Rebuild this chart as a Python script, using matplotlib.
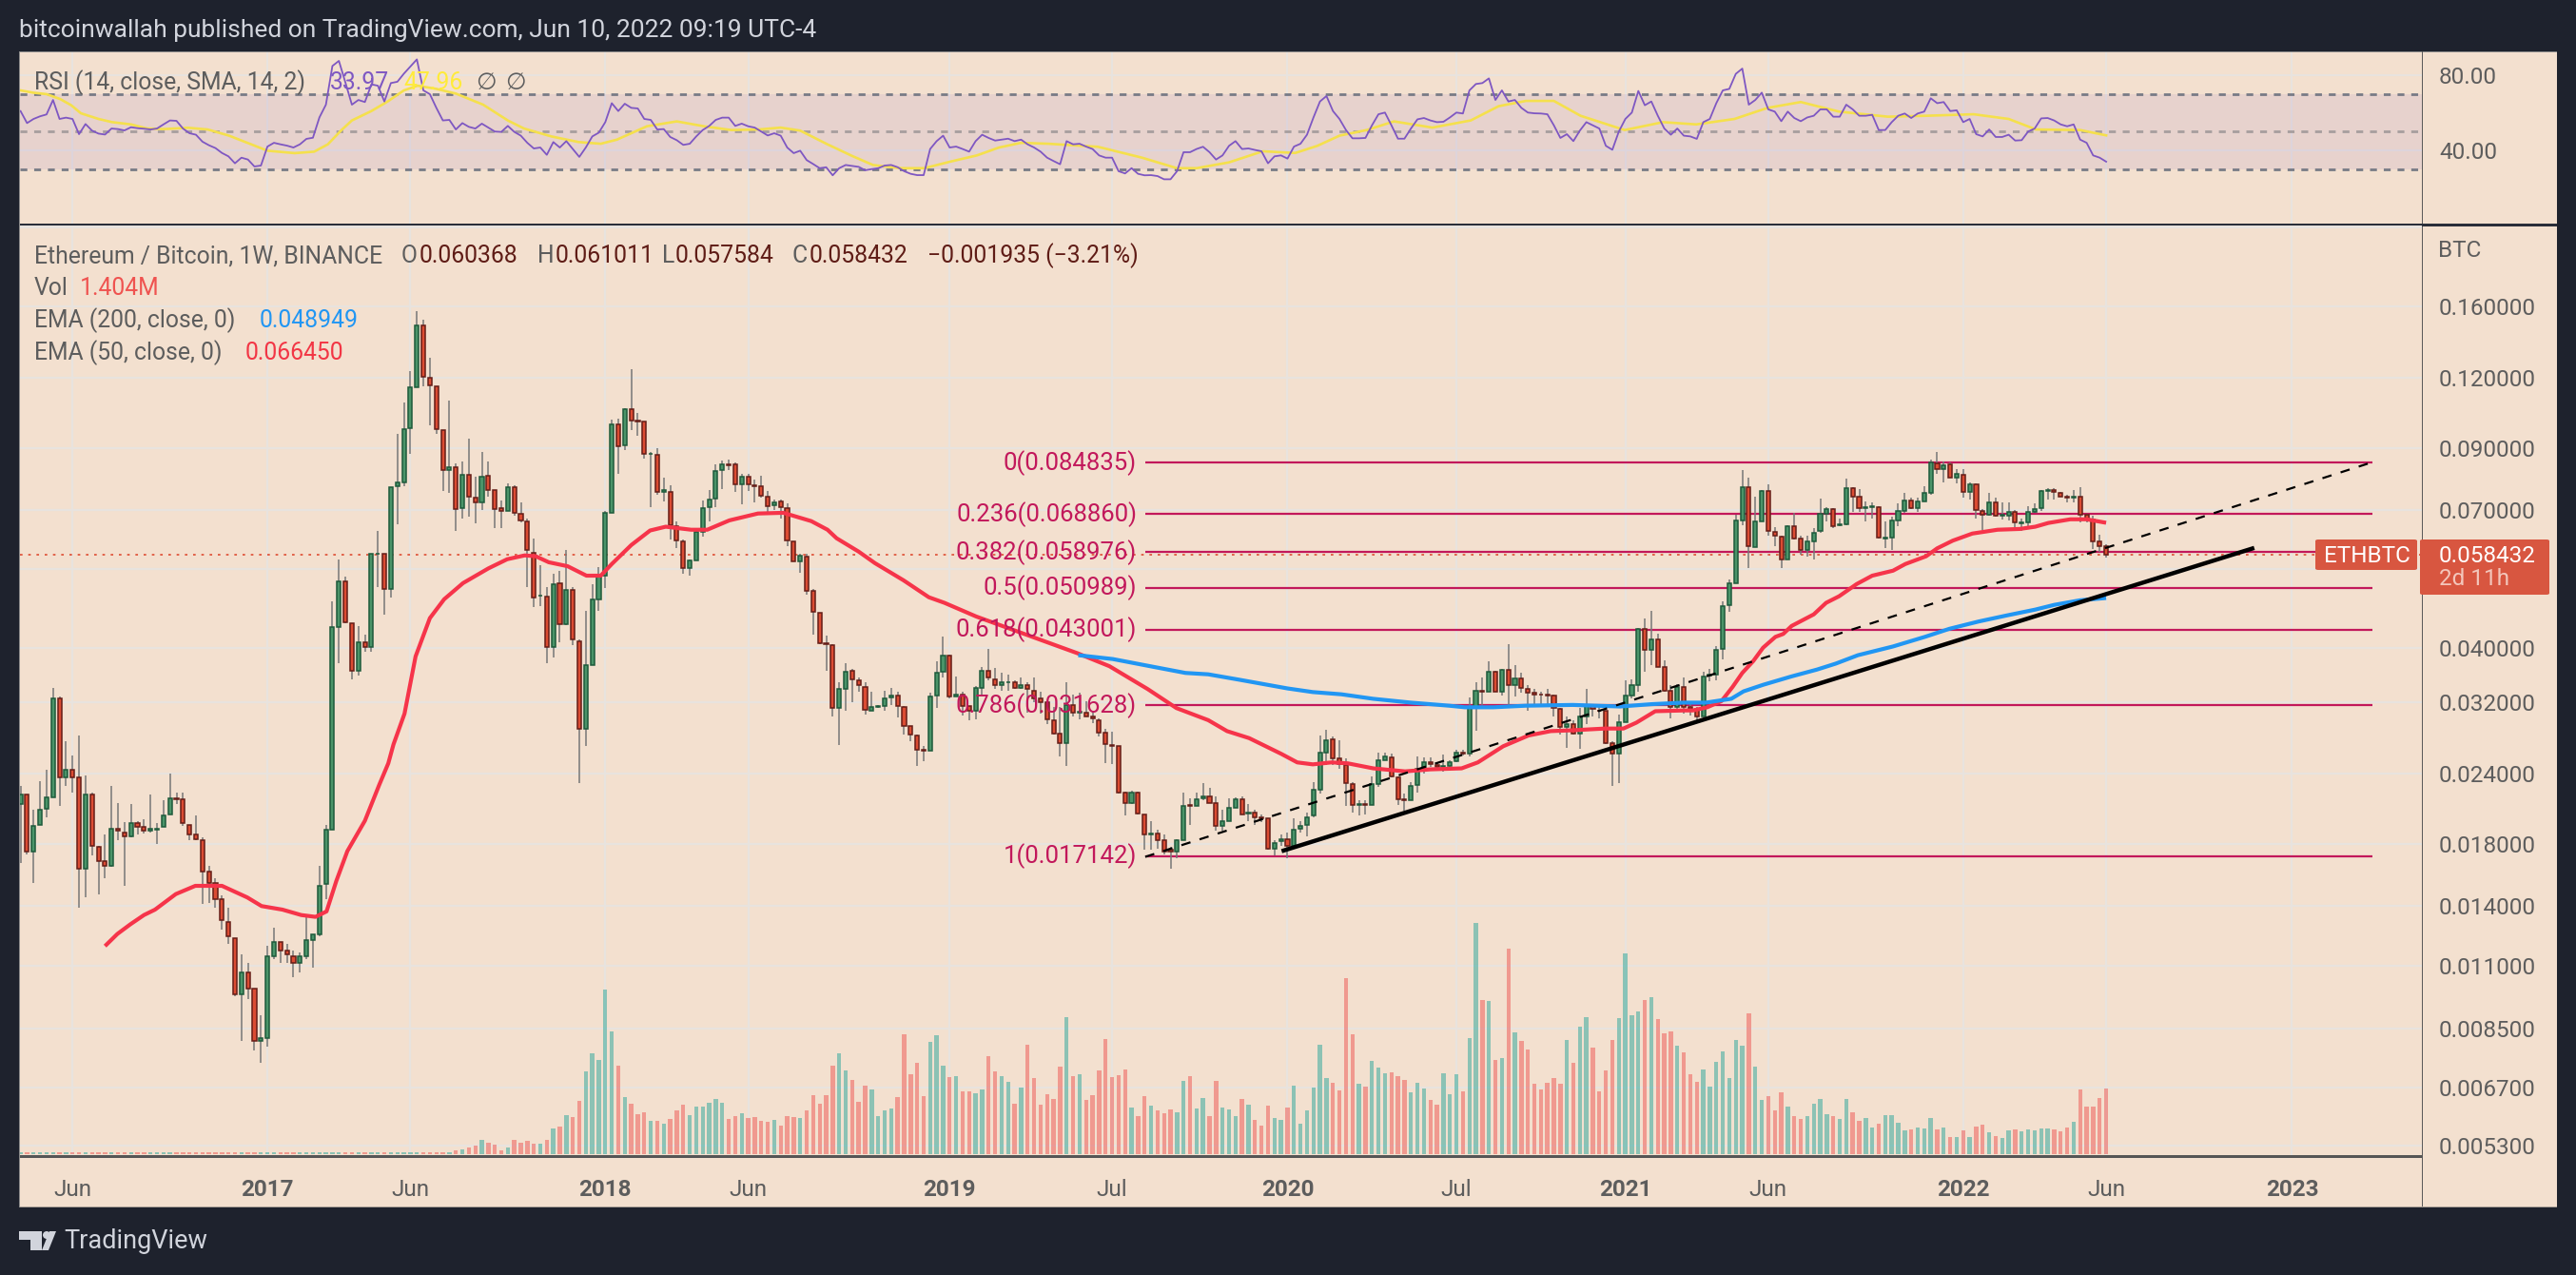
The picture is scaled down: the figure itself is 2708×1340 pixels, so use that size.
import matplotlib
matplotlib.use("Agg")
import matplotlib.pyplot as plt
import numpy as np
from matplotlib.patches import Circle, FancyBboxPatch, Polygon, Rectangle
from matplotlib.transforms import IdentityTransform

W, H = 2708, 1340

# weekly candles
open_p = [
    .0212, .0220, .0175, .0195, .0208, .0218, .0326, .0236, .0244, .0236,
    .0163, .0220, .0178, .0168, .0165, .0192, .0189, .0186, .0196, .0193,
    .0190, .0191, .0193, .0203, .0217, .0216, .0195, .0187, .0183, .0161,
    .0154, .0144, .0131, .0123, .0098, .0107, .0100, .0081, .0082, .0114,
    .0121, .0117, .0114, .0111, .0114, .0122, .0125, .0153, .0191, .0435,
    .0524, .0442, .0364, .0409, .0401, .0585, .0587, .0508, .0771, .0783,
    .0976, .1153, .1480, .1197, .1157, .0968, .0823, .0833, .0706, .0807,
    .0736, .0722, .0805, .0759, .0706, .0698, .0768, .0690, .0669, .0589,
    .0494, .0493, .0401, .0520, .0440, .0506, .0411, .0288, .0373, .0487,
    .0536, .0692, .0992, .0911, .1054, .1007, .1003, .0878, .0875, .0753,
    .0753, .0656, .0617, .0553, .0571, .0641, .0709, .0733, .0823, .0842,
    .0842, .0777, .0801, .0774, .0771, .0739, .0714, .0725, .0706, .0617,
    .0568, .0580, .0503, .0461, .0408, .0405, .0313, .0339, .0364, .0350,
    .0341, .0310, .0315, .0316, .0327, .0329, .0315, .0291, .0280, .0264,
    .0263, .0329, .0363, .0387, .0328, .0331, .0316, .0310, .0340, .0364,
    .0352, .0344, .0347, .0348, .0340, .0344, .0336, .0325, .0320, .0298,
    .0282, .0271, .0317, .0307, .0307, .0302, .0298, .0283, .0269, .0268,
    .0222, .0213, .0222, .0203, .0187, .0188, .0183, .0176, .0175, .0183,
    .0211, .0210, .0217, .0219, .0213, .0194, .0198, .0209, .0216, .0204,
    .0205, .0201, .0200, .0177, .0182, .0184, .0179, .0192, .0195, .0202,
    .0225, .0261, .0276, .0255, .0248, .0230, .0211, .0212, .0211, .0230,
    .0253, .0256, .0236, .0216, .0215, .0229, .0246, .0251, .0248, .0246,
    .0247, .0252, .0261, .0260, .0314, .0336, .0335, .0363, .0335, .0366,
    .0344, .0353, .0339, .0333, .0331, .0330, .0329, .0312, .0290, .0293,
    .0282, .0303, .0316, .0310, .0309, .0271, .0260, .0296, .0329, .0344,
    .0431, .0397, .0414, .0370, .0336, .0315, .0341, .0314, .0312, .0303,
    .0357, .0358, .0398, .0475, .0520, .0671, .0768, .0603, .0669, .0756,
    .0641, .0629, .0573, .0656, .0624, .0594, .0617, .0644, .0690, .0703,
    .0658, .0661, .0765, .0739, .0706, .0709, .0709, .0624, .0626, .0671,
    .0698, .0728, .0706, .0725, .0750, .0845, .0826, .0842, .0798, .0807,
    .0753, .0777, .0698, .0687, .0722, .0685, .0685, .0695, .0664, .0666,
    .0695, .0706, .0756, .0759, .0750, .0739, .0736, .0739, .0687, .0674,
    .0615, .060368,
]
high_p = [
    .0228, .0220, .0207, .0233, .0244, .0340, .0328, .0274, .0258, .0280,
    .0238, .0222, .0179, .0187, .0228, .0213, .0197, .0212, .0198, .0199,
    .0220, .0196, .0215, .0240, .0222, .0222, .0195, .0202, .0185, .0165,
    .0157, .0146, .0139, .0123, .0115, .0111, .0100, .0090, .0119, .0128,
    .0121, .0120, .0117, .0116, .0134, .0125, .0165, .0195, .0483, .0573,
    .0534, .0442, .0437, .0422, .0587, .0644, .0587, .0768, .0953, .1083,
    .1231, .1568, .1516, .1297, .1157, .0968, .1092, .0845, .0852, .0935,
    .0801, .0886, .0852, .0759, .0728, .0780, .0774, .0722, .0677, .0624,
    .0560, .0512, .0541, .0547, .0596, .0512, .0414, .0465, .0518, .0556,
    .0698, .1011, .1015, .1058, .1240, .1038, .1003, .0886, .0900, .0798,
    .0774, .0669, .0621, .0573, .0646, .0728, .0759, .0842, .0856, .0859,
    .0849, .0811, .0811, .0792, .0805, .0756, .0731, .0731, .0720, .0617,
    .0587, .0587, .0507, .0461, .0420, .0406, .0348, .0376, .0367, .0355,
    .0347, .0335, .0317, .0336, .0340, .0334, .0316, .0291, .0281, .0268,
    .0333, .0378, .0418, .0389, .0356, .0334, .0316, .0342, .0370, .0398,
    .0369, .0362, .0358, .0350, .0355, .0348, .0354, .0334, .0322, .0315,
    .0315, .0348, .0331, .0333, .0322, .0310, .0300, .0288, .0284, .0268,
    .0223, .0224, .0223, .0203, .0198, .0191, .0187, .0178, .0184, .0222,
    .0217, .0222, .0231, .0226, .0219, .0207, .0217, .0218, .0219, .0212,
    .0207, .0203, .0200, .0183, .0187, .0189, .0200, .0198, .0205, .0232,
    .0280, .0286, .0279, .0275, .0255, .0232, .0215, .0215, .0237, .0261,
    .0261, .0260, .0237, .0221, .0232, .0257, .0256, .0256, .0250, .0259,
    .0253, .0264, .0264, .0327, .0348, .0354, .0378, .0364, .0367, .0406,
    .0372, .0362, .0344, .0339, .0335, .0339, .0330, .0313, .0303, .0298,
    .0313, .0338, .0318, .0315, .0310, .0274, .0305, .0351, .0352, .0434,
    .0451, .0464, .0424, .0380, .0343, .0345, .0354, .0322, .0315, .0363,
    .0367, .0403, .0483, .0528, .0687, .0823, .0798, .0739, .0759, .0777,
    .0654, .0631, .0658, .0692, .0631, .0631, .0651, .0734, .0708, .0706,
    .0677, .0795, .0768, .0762, .0725, .0722, .0711, .0669, .0682, .0720,
    .0750, .0736, .0736, .0771, .0859, .0886, .0852, .0849, .0826, .0826,
    .0783, .0780, .0703, .0750, .0736, .0722, .0722, .0700, .0677, .0711,
    .0720, .0759, .0765, .0765, .0753, .0745, .0759, .0768, .0690, .0685,
    .0634, .061011,
]
low_p = [
    .0167, .0173, .0154, .0195, .0201, .0218, .0210, .0228, .0222, .0139,
    .0145, .0172, .0147, .0157, .0164, .0183, .0152, .0185, .0187, .0188,
    .0189, .0180, .0193, .0203, .0212, .0194, .0183, .0183, .0141, .0142,
    .0139, .0127, .0120, .0097, .0081, .0096, .0078, .0074, .0079, .0113,
    .0111, .0111, .0105, .0107, .0113, .0109, .0124, .0144, .0191, .0376,
    .0442, .0352, .0357, .0394, .0394, .0512, .0457, .0491, .0661, .0771,
    .0879, .1153, .1157, .0988, .0953, .0756, .0750, .0643, .0677, .0682,
    .0664, .0700, .0739, .0651, .0651, .0698, .0685, .0666, .0512, .0471,
    .0473, .0376, .0385, .0409, .0438, .0405, .0231, .0268, .0373, .0464,
    .0510, .0692, .0810, .0893, .0968, .0946, .0862, .0708, .0746, .0725,
    .0621, .0600, .0541, .0537, .0571, .0629, .0669, .0709, .0762, .0823,
    .0753, .0717, .0756, .0722, .0736, .0693, .0700, .0677, .0605, .0568,
    .0543, .0497, .0422, .0406, .0364, .0302, .0269, .0310, .0321, .0335,
    .0305, .0309, .0313, .0309, .0317, .0301, .0281, .0274, .0247, .0252,
    .0263, .0313, .0355, .0325, .0328, .0304, .0298, .0299, .0330, .0350,
    .0338, .0336, .0336, .0338, .0338, .0307, .0321, .0306, .0293, .0281,
    .0257, .0247, .0303, .0299, .0302, .0294, .0279, .0250, .0249, .0221,
    .0202, .0212, .0203, .0176, .0176, .0177, .0173, .0163, .0170, .0183,
    .0195, .0210, .0215, .0213, .0190, .0190, .0198, .0209, .0203, .0198,
    .0195, .0197, .0176, .0172, .0179, .0170, .0177, .0189, .0186, .0201,
    .0221, .0248, .0248, .0245, .0210, .0205, .0202, .0203, .0211, .0227,
    .0253, .0236, .0211, .0206, .0215, .0222, .0240, .0246, .0243, .0242,
    .0243, .0251, .0258, .0257, .0285, .0317, .0335, .0334, .0329, .0313,
    .0328, .0333, .0310, .0318, .0316, .0318, .0303, .0281, .0266, .0281,
    .0265, .0293, .0303, .0300, .0270, .0228, .0231, .0296, .0325, .0335,
    .0363, .0372, .0370, .0335, .0300, .0309, .0306, .0304, .0294, .0303,
    .0349, .0350, .0382, .0463, .0520, .0658, .0553, .0603, .0669, .0631,
    .0605, .0553, .0573, .0621, .0584, .0580, .0573, .0639, .0669, .0651,
    .0656, .0658, .0695, .0695, .0669, .0677, .0624, .0600, .0594, .0656,
    .0693, .0703, .0695, .0725, .0746, .0810, .0783, .0798, .0780, .0736,
    .0731, .0677, .0646, .0685, .0682, .0674, .0671, .0654, .0643, .0648,
    .0693, .0698, .0731, .0731, .0739, .0722, .0722, .0666, .0666, .0598,
    .0591, .057584,
]
close_p = [
    .0220, .0175, .0194, .0207, .0218, .0326, .0236, .0244, .0236, .0163,
    .0220, .0179, .0168, .0165, .0192, .0190, .0186, .0196, .0193, .0190,
    .0192, .0192, .0202, .0217, .0216, .0196, .0187, .0184, .0161, .0154,
    .0144, .0132, .0124, .0098, .0107, .0100, .0081, .0082, .0114, .0121,
    .0117, .0115, .0111, .0114, .0122, .0125, .0152, .0191, .0435, .0524,
    .0444, .0364, .0409, .0401, .0587, .0587, .0508, .0768, .0783, .0972,
    .1153, .1480, .1201, .1160, .0972, .0823, .0833, .0703, .0807, .0739,
    .0722, .0801, .0759, .0703, .0698, .0768, .0693, .0671, .0594, .0491,
    .0495, .0401, .0518, .0440, .0506, .0413, .0288, .0373, .0487, .0534,
    .0692, .0992, .0907, .1054, .1007, .1003, .0879, .0879, .0753, .0759,
    .0658, .0618, .0553, .0571, .0641, .0706, .0731, .0820, .0842, .0839,
    .0777, .0801, .0777, .0771, .0742, .0711, .0722, .0709, .0618, .0568,
    .0582, .0503, .0463, .0408, .0406, .0313, .0338, .0363, .0352, .0343,
    .0311, .0315, .0316, .0326, .0329, .0316, .0291, .0281, .0264, .0263,
    .0328, .0362, .0387, .0328, .0331, .0316, .0310, .0340, .0364, .0354,
    .0344, .0347, .0348, .0340, .0344, .0338, .0326, .0321, .0299, .0282,
    .0271, .0317, .0307, .0308, .0303, .0300, .0283, .0270, .0268, .0222,
    .0213, .0222, .0204, .0187, .0188, .0183, .0175, .0175, .0183, .0210,
    .0210, .0216, .0219, .0213, .0194, .0198, .0209, .0216, .0203, .0205,
    .0201, .0200, .0177, .0181, .0184, .0179, .0191, .0194, .0201, .0225,
    .0261, .0275, .0255, .0249, .0231, .0211, .0212, .0211, .0230, .0253,
    .0257, .0237, .0216, .0215, .0228, .0245, .0251, .0249, .0246, .0247,
    .0251, .0261, .0260, .0314, .0336, .0335, .0363, .0335, .0366, .0344,
    .0353, .0340, .0333, .0331, .0330, .0329, .0313, .0290, .0293, .0282,
    .0303, .0316, .0312, .0309, .0271, .0260, .0296, .0329, .0344, .0432,
    .0397, .0414, .0370, .0336, .0315, .0341, .0314, .0312, .0303, .0356,
    .0358, .0397, .0473, .0520, .0671, .0768, .0605, .0669, .0756, .0643,
    .0631, .0573, .0656, .0624, .0594, .0617, .0639, .0690, .0703, .0656,
    .0661, .0765, .0739, .0706, .0709, .0711, .0626, .0626, .0671, .0698,
    .0728, .0706, .0725, .0750, .0849, .0826, .0839, .0798, .0811, .0753,
    .0777, .0700, .0687, .0722, .0685, .0687, .0695, .0666, .0666, .0695,
    .0703, .0756, .0759, .0753, .0739, .0736, .0739, .0687, .0674, .0617,
    .0605, .058432,
]

# weekly volume in millions
volume_m = [
    .04, .04, .04, .04, .04, .04, .04, .04, .04, .04,
    .04, .04, .04, .04, .04, .04, .04, .04, .04, .04,
    .04, .04, .04, .04, .04, .04, .04, .04, .04, .04,
    .04, .04, .04, .04, .04, .04, .04, .04, .04, .04,
    .04, .04, .04, .04, .04, .04, .04, .04, .04, .04,
    .04, .04, .04, .04, .04, .04, .04, .04, .04, .04,
    .04, .04, .04, .04, .04, .04, .05, .08, .10, .14,
    .18, .31, .24, .20, .08, .14, .31, .24, .28, .22,
    .22, .31, .55, .59, .83, .79, 1.14, 1.77, 2.16, 2.01,
    3.52, 2.63, 1.89, 1.22, 1.08, .85, .90, .71, .71, .65,
    .75, .94, 1.06, .83, 1.02, 1.02, 1.10, 1.18, 1.10, .75,
    .81, .88, .77, .79, .71, .69, .73, .61, .81, .79,
    .77, .94, 1.26, 1.08, 1.26, 1.89, 2.16, 1.79, 1.59, 1.12,
    1.47, 1.38, .81, .94, .98, 1.22, 2.56, 1.71, 1.95, 1.24,
    2.40, 2.54, 1.89, 1.65, 1.67, 1.34, 1.34, 1.30, 1.38, 2.10,
    1.77, 1.67, 1.55, 1.08, 1.42, 2.34, 1.63, 1.06, 1.28, 1.18,
    1.87, 2.93, 1.67, 1.71, 1.16, 1.26, 1.79, 2.46, 1.65, 1.69,
    1.81, 1.00, .81, 1.24, 1.04, .94, .88, .96, .90, 1.57,
    1.67, .98, 1.20, .81, 1.57, 1.00, .96, .81, 1.18, 1.06,
    .73, .61, 1.04, .77, .73, 1.00, 1.47, .65, .94, 1.42,
    2.34, 1.63, 1.53, 1.36, 3.76, 2.56, 1.51, 1.44, 1.99, 1.85,
    1.73, 1.75, 1.67, 1.59, 1.32, 1.53, 1.40, 1.16, 1.06, 1.73,
    1.28, 1.71, 1.34, 2.48, 4.94, 3.30, 3.28, 2.01, 2.06, 4.40,
    2.60, 2.42, 2.24, 1.51, 1.38, 1.53, 1.63, 1.51, 2.44, 1.95,
    2.73, 2.93, 2.28, 1.34, 1.79, 2.44, 2.91, 4.29, 2.97, 3.05,
    3.30, 3.36, 2.89, 2.58, 2.63, 2.32, 2.18, 1.71, 1.55, 1.81,
    1.44, 1.97, 2.20, 1.63, 2.44, 2.32, 3.01, 1.87, 1.16, 1.24,
    .94, 1.32, 1.02, .81, .75, .81, 1.08, 1.18, .85, .81,
    .75, 1.18, .90, .71, .77, .57, .65, .83, .83, .67,
    .51, .53, .57, .55, .77, .53, .57, .37, .37, .51,
    .37, .59, .63, .47, .39, .35, .51, .53, .49, .53,
    .51, .55, .55, .53, .49, .57, .69, 1.38, 1.02, 1.02,
    1.20, 1.404,
]

# RSI(14) per week
rsi = [
    60.9, 54.5, 56.7, 58.1, 59.1, 66.8, 56.7, 57.4, 56.7, 48.6,
    54.0, 50.5, 48.9, 48.4, 51.6, 51.3, 50.6, 52.3, 51.8, 51.5,
    51.1, 51.6, 53.8, 55.9, 55.7, 51.6, 49.1, 48.3, 44.6, 42.7,
    41.2, 38.6, 36.8, 33.1, 36.1, 35.1, 31.4, 31.9, 42.0, 44.0,
    43.2, 42.5, 41.5, 43.2, 46.1, 46.7, 57.5, 64.3, 84.9, 87.6,
    76.1, 64.3, 66.8, 65.7, 75.1, 74.4, 66.0, 75.8, 76.5, 80.8,
    84.6, 88.4, 71.9, 69.9, 62.6, 55.9, 56.2, 51.1, 54.5, 52.5,
    51.6, 54.2, 52.1, 50.0, 49.8, 53.0, 49.8, 47.8, 44.0, 41.0,
    41.5, 37.6, 44.4, 41.5, 44.9, 40.7, 36.5, 41.5, 47.4, 49.4,
    55.0, 65.1, 60.9, 64.8, 62.6, 62.3, 56.7, 56.2, 51.1, 51.3,
    47.1, 45.4, 42.9, 43.5, 47.4, 50.8, 53.0, 56.2, 57.4, 57.4,
    53.0, 54.2, 52.8, 52.1, 50.0, 47.9, 49.1, 47.8, 41.5, 38.5,
    39.8, 34.8, 32.7, 30.5, 31.0, 26.7, 30.5, 32.2, 31.7, 31.2,
    29.4, 30.0, 30.5, 31.9, 32.2, 31.0, 28.9, 27.5, 26.8, 26.8,
    40.7, 44.9, 47.8, 41.5, 42.0, 40.7, 39.3, 44.9, 48.3, 46.6,
    45.2, 45.7, 46.2, 44.9, 45.7, 43.2, 41.5, 39.3, 36.1, 34.3,
    32.6, 44.9, 43.2, 43.5, 42.0, 40.7, 37.3, 36.1, 36.1, 28.9,
    27.7, 30.5, 27.5, 26.7, 26.8, 26.3, 24.6, 24.6, 28.9, 39.0,
    39.0, 40.7, 41.9, 39.0, 35.1, 37.3, 42.4, 44.9, 40.7, 41.0,
    40.2, 39.5, 33.1, 36.8, 37.3, 35.6, 42.0, 43.5, 48.3, 57.5,
    66.0, 68.9, 60.9, 56.7, 50.8, 46.4, 46.4, 46.6, 53.3, 59.2,
    60.1, 53.3, 46.2, 46.2, 51.6, 56.5, 57.2, 55.9, 55.0, 55.2,
    57.5, 60.1, 59.6, 71.9, 75.3, 75.8, 78.3, 66.8, 71.9, 66.0,
    66.8, 62.6, 60.1, 59.7, 59.6, 59.2, 53.3, 46.6, 48.6, 44.9,
    50.5, 55.0, 53.3, 51.6, 42.4, 40.3, 50.0, 56.7, 60.1, 71.6,
    64.0, 66.0, 58.4, 51.6, 48.3, 51.6, 47.8, 47.4, 46.1, 55.0,
    56.7, 65.1, 71.9, 72.7, 80.7, 83.5, 64.3, 66.8, 70.7, 61.8,
    60.6, 55.5, 60.6, 57.2, 55.5, 57.5, 58.4, 61.8, 61.8, 57.9,
    57.9, 64.3, 61.8, 58.4, 58.4, 58.9, 50.8, 50.8, 55.0, 58.4,
    59.6, 57.2, 59.6, 60.6, 67.7, 65.1, 65.7, 60.9, 61.3, 55.0,
    56.7, 48.6, 47.4, 51.1, 47.1, 47.1, 48.3, 45.2, 45.4, 50.0,
    51.6, 57.0, 57.2, 55.9, 53.8, 52.8, 53.8, 45.7, 44.0, 37.3,
    36.1, 33.97,
]

# RSI moving average, read at these bars
rsi_ma_week = [
    0, 1.9, 4, 6.1, 7.8, 9.3, 12, 14.1, 17, 19.5, 22, 25.8, 28.8, 32.1, 35.5,
    38, 42.2, 45.2, 47.3, 49.4, 51, 54, 56.5, 59, 61.1, 64, 67, 71.2, 75, 77.5,
    81.7, 85.9, 89.3, 91.8, 96.4, 101, 105.2, 109.4, 113.6, 117, 120, 124.2,
    128, 131.2, 135.4, 139.1, 143, 147.2, 150.6, 154, 158.2, 165.8, 172.6,
    178, 181, 186, 191.2, 196.2, 199.6, 203, 207.2, 211.4, 217.3, 223.2,
    227.5, 231.7, 236, 240.1, 246.9, 252.8, 257.9, 263.8, 268.9, 274, 279.9,
    287.4, 293.4, 300.6, 306, 310.2, 317, 321,
]
rsi_ma = [
    71.9, 70.7, 69.9, 67.3, 64.0, 59.7, 56.7, 55.0, 53.8, 51.6, 51.3, 52.0, 51.1,
    47.8, 43.2, 39.8, 38.5, 39.3, 43.2, 50.8, 55.9, 60.9, 66.0, 71.9, 74.4,
    72.7, 70.2, 64.3, 55.9, 51.6, 47.4, 44.4, 43.5, 45.7, 52.8, 55.4, 52.8,
    50.8, 51.1, 52.1, 50.5, 43.2, 37.0, 32.2, 30.5, 30.5, 33.9, 37.3, 41.5,
    44.0, 43.5, 41.9, 36.1, 30.5, 30.5, 33.6, 39.5, 38.6, 42.4, 47.8, 50.8,
    55.4, 52.1, 55.9, 63.5, 66.3, 66.3, 58.4, 50.8, 55.0, 53.8, 56.7, 62.6,
    65.7, 60.6, 57.9, 58.4, 59.2, 56.7, 51.1, 50.8, 47.96,
]

# EMA lines, read at these bars
ema50_week = [
    13, 14.9, 16.9, 19, 20.7, 23.9, 26.9, 29, 31, 34.9, 37.1, 40.3, 43.2, 45.4,
    47.1, 48.6, 50.3, 53, 55.2, 56.6, 57.4, 59.1, 60.8, 63, 65.2, 68.1, 72,
    74.9, 77.6, 79.3, 81.3, 84.2, 87.1, 89.3, 91, 94, 96.9, 99.3, 103.2,
    105.7, 109.1, 113.5, 117.4, 121.7, 124.2, 125.6, 129, 131.5, 135.9, 139.8,
    142.2, 147.1, 154, 159.8, 162.7, 167.6, 173.5, 177.9, 182.8, 185.7, 189.1,
    194, 196.5, 198.9, 201.8, 204.3, 208.2, 213.1, 217, 221.8, 224.3, 228.2,
    232.1, 235.5, 238.9, 243.8, 246.7, 248.7, 251.6, 256, 257.4, 259.6, 261.8,
    263.5, 265, 266.7, 268.2, 270.1, 271.3, 272.6, 276, 277.9, 279.9, 282.6,
    285, 288.2, 290.1, 293.3, 295, 297.4, 300.4, 304.3, 307.7, 310.1, 312.1,
    315.5, 318, 321,
]
ema50 = [
    .0119, .0125, .0130, .0135, .0138, .0147, .0152, .0152, .0152, .0145, .0140,
    .0138, .0135, .0134, .0137, .0155, .0175, .0198, .0229, .0250, .0270, .0306,
    .0386, .0451, .0487, .0520, .0552, .0573, .0582, .0580, .0566, .0557, .0536,
    .0536, .0562, .0607, .0644, .0654, .0646, .0646, .0671, .0690, .0692, .0669,
    .0646, .0624, .0591, .0564, .0526, .0491, .0480, .0454, .0425, .0402, .0391,
    .0371, .0338, .0313, .0298, .0285, .0277, .0260, .0251, .0249, .0251, .0250,
    .0245, .0242, .0244, .0245, .0251, .0268, .0280, .0285, .0286, .0288, .0288,
    .0295, .0309, .0310, .0310, .0314, .0322, .0341, .0361, .0379, .0400, .0418,
    .0423, .0437, .0458, .0480, .0493, .0518, .0536, .0547, .0562, .0580, .0599,
    .0618, .0636, .0646, .0648, .0654, .0664, .0674, .0674, .06645,
]
ema200_week = [
    162.8, 168.1, 174.4, 179.3, 182.8, 187.7, 195, 198.9, 203.3, 208.2, 214,
    219.9, 222.3, 226.7, 231.6, 238.9, 246.2, 251.1, 256, 259.4, 263.3, 265.2,
    268.2, 272.6, 276.5, 279.4, 282.8, 288.2, 293.1, 296.9, 301.4, 305.7,
    310.1, 313, 317, 321,
]
ema200 = [
    .0388, .0382, .0370, .0361, .0359, .0351, .0339, .0334, .0331, .0325, .0320,
    .0316, .0314, .0314, .0316, .0317, .0315, .0318, .0320, .0320, .0325, .0335,
    .0344, .0356, .0366, .0375, .0388, .0402, .0418, .0432, .0445, .0456, .0467,
    .0476, .0485, .048949,
]

# fib retracement levels
fib_labels = ["0", "0.236", "0.382", "0.5", "0.618", "0.786", "1"]
fib_levels = [.084835, .068860, .058976, .050989, .043001, .031628, .017142]
fib_weeks = [173.1, 362]
# drawn trend lines
trend_weeks = [194.1, 343.8]
trend_prices = [.0175, .0600]
dash_weeks = [173.1, 361.7]
dash_prices = [.0171, .0848]
last_price = .058432

price_ticks = [.16, .12, .09, .07, .04, .032, .024, .018, .014, .011, .0085, .0067, .0053]
price_tick_labels = ["0.160000", "0.120000", "0.090000", "0.070000", "0.040000", "0.032000",
                     "0.024000", "0.018000", "0.014000", "0.011000", "0.008500", "0.006700", "0.005300"]
time_ticks = [8, 38, 60, 90, 112, 143, 168, 195, 221, 247, 269, 299, 321, 349.6]
time_labels = ["Jun", "2017", "Jun", "2018", "Jun", "2019", "Jul", "2020", "Jul", "2021", "Jun", "2022", "Jun", "2023"]

BG = "#f3e0cf"
DARK = "#1e222d"
GRID = "#e8e3de"
TXT = "#5d5d5d"
MAROON = "#5f1c16"
TAG = "#d85640"
AXIS_SIZE = 17.5
LEG_SIZE = 17.8

plt.rcParams["font.family"] = ["Roboto", "DejaVu Sans"]
fig = plt.figure(figsize=(W / 100, H / 100), dpi=100, facecolor=DARK)


def pane(left, top, right, bottom, z):
    a = fig.add_axes([left / W, 1 - bottom / H, (right - left) / W, (bottom - top) / H], zorder=z)
    for s in a.spines.values():
        s.set_visible(False)
    return a


def box(x0, y0, x1, y1, color, z=-1):
    fig.add_artist(Rectangle((x0 / W, 1 - y1 / H), (x1 - x0) / W, (y1 - y0) / H, color=color, lw=0,
                             transform=fig.transFigure, zorder=z))


def label(x, y, s, color=TXT, size=LEG_SIZE, **kw):
    fig.text(x / W, 1 - y / H, s, color=color, fontsize=size, va="center", zorder=8, **kw)


weeks = np.arange(len(close_p))
o = np.array(open_p)
c = np.array(close_p)
up = c >= o
XLIM = (-0.16, 369.6)
PLIM = (.00507, .2215)

box(20.5, 54, 2688, 1269, BG)

# RSI pane
ax_rsi = pane(20.5, 54, 2546, 236, 1)
ax_rsi.set_facecolor(BG)
ax_rsi.axhspan(30, 70, color="#7e57c2", alpha=.1, lw=0, zorder=1)
for lv, col in [(70, "#787b86"), (50, "#a79e9e"), (30, "#787b86")]:
    ax_rsi.axhline(lv, color=col, lw=2, ls=(0, (2.6, 2.6)), zorder=2)
ax_rsi.plot(rsi_ma_week, rsi_ma, color="#f5e04c", lw=1.9, zorder=3)
ax_rsi.plot(weeks, rsi, color="#7e57c2", lw=1.3, zorder=4)
ax_rsi.set_xlim(XLIM)
ax_rsi.set_ylim(.5, 92.66)
ax_rsi.set_xticks(time_ticks, [""] * len(time_ticks))
ax_rsi.set_yticks([80, 40], ["80.00", "40.00"], fontsize=AXIS_SIZE, color=TXT)
ax_rsi.yaxis.tick_right()
ax_rsi.tick_params(length=0, pad=13)
ax_rsi.grid(True, color=GRID, lw=1.5, zorder=0)
ax_rsi.set_axisbelow(True)

# price pane: grid below, then volume, then candles
ax_grid = pane(20.5, 238, 2546, 1215, 1)
ax_grid.set_facecolor(BG)
ax_grid.set_yscale("log")
ax_grid.set_xlim(XLIM)
ax_grid.set_ylim(PLIM)
ax_grid.set_yticks(price_ticks + [.055], price_tick_labels + [""], fontsize=AXIS_SIZE, color=TXT)
ax_grid.minorticks_off()
ax_grid.yaxis.tick_right()
ax_grid.set_xticks(time_ticks, time_labels, fontsize=AXIS_SIZE, color=TXT)
for lab, t in zip(ax_grid.get_xticklabels(), time_labels):
    if t.isdigit():
        lab.set_fontweight("bold")
ax_grid.tick_params(axis="y", length=0, pad=13)
ax_grid.tick_params(axis="x", length=0, pad=17)
ax_grid.grid(True, color=GRID, lw=1.6)
ax_grid.set_axisbelow(True)

ax_vol = pane(20.5, 238, 2546, 1215, 2)
ax_vol.patch.set_visible(False)
ax_vol.bar(weeks, volume_m, width=.64, color=np.where(up, "#26a69a", "#ef5350"), alpha=.5, lw=0)
ax_vol.set_xlim(XLIM)
ax_vol.set_ylim(-.04, 19.84)
ax_vol.axis("off")

ax = pane(20.5, 238, 2546, 1215, 3)
ax.patch.set_visible(False)
ax.set_yscale("log")
ax.axhline(last_price, color="#e0583f", lw=1.3, ls=(0, (1.5, 3.3)), zorder=1)
ax.hlines(fib_levels, fib_weeks[0], fib_weeks[1], color="#c2185b", lw=1.6, zorder=2)
ax.vlines(weeks, low_p, high_p, color="#777777", lw=1.1, zorder=3)
ax.bar(weeks, np.abs(c - o), bottom=np.minimum(o, c), width=.6,
       color=np.where(up, "#4b9469", "#db4c33"), edgecolor=np.where(up, "#1d5a3b", "#651d17"),
       lw=1.1, zorder=4)
ax.plot(ema50_week, ema50, color="#f6344a", lw=3.0, zorder=5, solid_capstyle="butt")
ax.plot(ema200_week, ema200, color="#2196f3", lw=3.0, zorder=6, solid_capstyle="butt")
ax.plot(dash_weeks, dash_prices, color="black", lw=1.6, ls=(0, (4.5, 4.5)), zorder=6)
ax.plot(trend_weeks, trend_prices, color="black", lw=3.2, zorder=6, solid_capstyle="butt")
for name, lv in zip(fib_labels, fib_levels):
    ax.text(171.8, lv, f"{name}({lv:.6f})", color="#c2185b", fontsize=18.5, ha="right", va="center", zorder=7)
ax.set_xlim(XLIM)
ax.set_ylim(PLIM)
ax.minorticks_off()
ax.axis("off")

# separators and outer frame
box(20.5, 54, 2688, 55, "#8a8a8a", 5)
box(20, 54, 21, 1269, "#8a8a8a", 5)
box(2545.5, 54, 2547, 1269, "#5a5a5a", 5)
box(20.5, 234.5, 2688, 237.5, "#2a2e39", 5)
box(20.5, 237.5, 2546, 240, GRID, 5)
box(20.5, 1214, 2546, 1216.5, "#555555", 5)
box(20.5, 1268, 2688, 1269, "#a89f96", 5)

# price tags
for x0, y0, x1, y1 in [(2434, 567, 2541, 599), (2544, 567, 2680, 625)]:
    fig.add_artist(FancyBboxPatch((x0 / W, 1 - y1 / H), (x1 - x0) / W, (y1 - y0) / H,
                                  boxstyle=f"round,pad=0,rounding_size={3 / W}", color=TAG, lw=0,
                                  transform=fig.transFigure, zorder=6))
label(2443, 584, "ETHBTC", "white", AXIS_SIZE)
label(2564, 584, "0.058432", "white", AXIS_SIZE)
label(2564, 609, "2d 11h", "#f3c6bb", AXIS_SIZE)
label(2563, 264, "BTC", TXT, AXIS_SIZE)

# header, legends and logo
label(20, 32, "bitcoinwallah published on TradingView.com, Jun 10, 2022 09:19 UTC-4", "#d1d4dc", 19)
label(36, 87, "RSI (14, close, SMA, 14, 2)")
label(347, 87, "33.97", "#7e57c2")
label(424, 87, "47.96", "#ffeb3b")
label(500, 87, "∅")
label(531, 87, "∅")
label(36, 269, "Ethereum / Bitcoin, 1W, BINANCE")
for x, s, col in [(422, "O", TXT), (441, "0.060368", MAROON), (565, "H", TXT), (584, "0.061011", MAROON),
                  (696, "L", TXT), (710, "0.057584", MAROON), (832, "C", TXT), (851, "0.058432", MAROON),
                  (975, "−0.001935 (−3.21%)", MAROON)]:
    label(x, 269, s, col)
label(36, 303, "Vol")
label(84, 303, "1.404M", "#ef5350")
label(36, 337, "EMA (200, close, 0)")
label(273, 337, "0.048949", "#2196f3")
label(36, 371, "EMA (50, close, 0)")
label(258, 371, "0.066450", "#f23645")

LOGO = "#d1d4dc"
box(20, 1294, 44, 1303, LOGO, 7)
box(32, 1294, 44, 1314, LOGO, 7)
fig.add_artist(Polygon([(51 / W, 1 - 1314 / H), (59 / W, 1 - 1294 / H), (52 / W, 1 - 1294 / H), (44 / W, 1 - 1314 / H)],
                       color=LOGO, lw=0, transform=fig.transFigure, zorder=7))
label(67, 1305, "TradingView", LOGO, 19.5)
fig.add_artist(Circle((49, H - 1298), 4, color=LOGO, lw=0, transform=IdentityTransform(), zorder=7))

fig.savefig("out.png", dpi=100, facecolor=DARK)
